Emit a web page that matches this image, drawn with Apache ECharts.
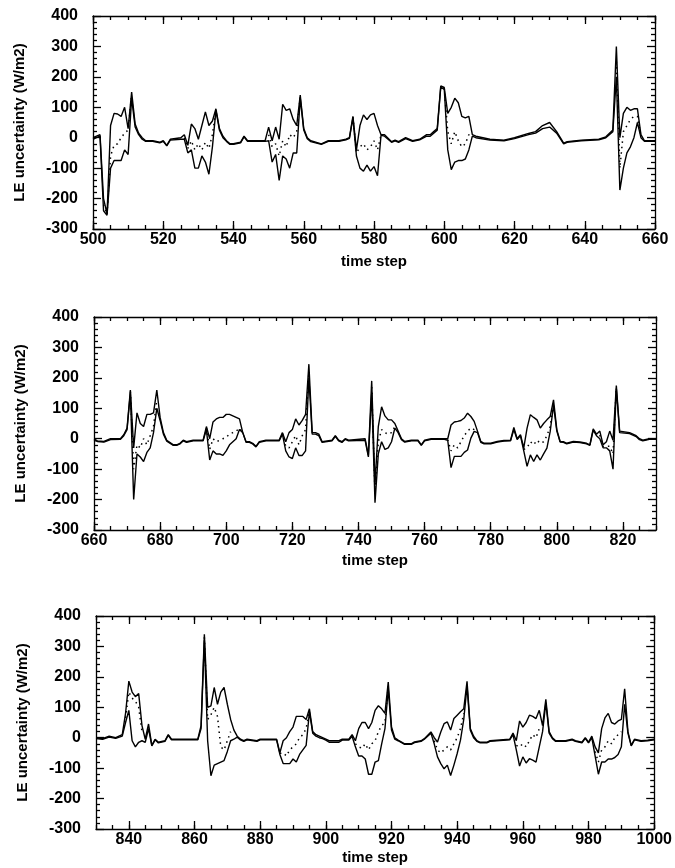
<!DOCTYPE html>
<html>
<head>
<meta charset="utf-8">
<script src="https://cdn.jsdelivr.net/npm/echarts@6.0.0/dist/echarts.min.js"></script>
<style>
html, body { margin: 0; background: #fff; }
#chart { width: 675px; height: 868px; }
</style>
</head>
<body>
<div id="chart"></div>
<script>
// panel A: time steps 500-660
var stepsA = [500,501,502,503,504,505,506,507,508,509,510,511,512,513,514,515,517,519,520,521,522,525,526,527,528,529,530,531,532,533,534,535,536,537,538,539,540,542,543,544,549,550,551,552,553,554,555,556,557,558,559,560,561,562,565,567,570,572,573,574,575,576,577,578,579,580,581,582,583,585,586,587,589,591,593,595,596,597,598,599,600,601,602,603,604,605,606,607,608,609,613,617,620,624,626,628,630,632,634,635,639,644,646,648,649,650,651,652,653,654,655,656,657,658,660];
var upperA = [0,5,10,-200,-250,40,80,78,70,100,30,150,45,15,0,-10,-10,-15,-10,-25,-5,0,10,-25,45,30,-5,40,85,40,55,95,30,5,-10,-20,-20,-15,5,-10,-10,35,-10,35,-5,110,90,95,60,40,140,30,0,-10,-20,-10,-10,-5,0,70,-40,40,75,60,75,80,40,10,10,-13,-8,-13,0,-10,-5,10,10,20,30,170,165,80,100,130,115,70,65,70,10,5,-5,-8,0,14,20,40,50,20,-18,-13,-8,-5,3,25,300,0,80,100,90,95,95,10,-10,-10,-10];
var lowerA = [-5,0,5,-240,-255,-100,-75,-75,-75,-40,-55,130,35,10,-5,-12,-12,-17,-12,-27,-8,-5,-5,-50,-40,-100,-100,-60,-80,-120,-30,90,25,0,-12,-22,-22,-17,3,-12,-12,-10,-80,-55,-140,-60,-70,-100,-50,-50,130,25,-3,-13,-22,-12,-12,-7,-2,65,-60,-100,-110,-90,-110,-95,-125,8,5,-15,-10,-15,-3,-12,-7,5,5,15,25,165,160,-40,-105,-80,-75,-75,-70,-40,5,0,-8,-10,-3,10,15,30,35,15,-20,-15,-10,-7,0,20,200,-172,-100,-50,-30,0,50,0,-12,-12,-12];
var midA = [null,null,null,-220,-252,-60,-25,-20,0,15,25,140,null,null,null,null,null,null,null,null,null,null,0,-35,-10,-40,-20,-40,-15,-35,10,92,null,null,null,null,null,null,null,null,null,10,-30,-20,-60,-10,-30,10,0,20,135,null,null,null,null,null,null,null,null,68,-50,-30,-20,-40,-30,-10,-40,9,null,null,null,null,null,null,null,null,null,null,null,null,162,20,-20,20,-10,-30,-20,10,7,null,null,null,null,null,null,null,null,null,null,null,null,null,null,null,250,-100,20,40,60,70,70,5,null,null,null];

// panel B: time steps 660-830
var stepsB = [660,661,663,665,668,669,670,671,672,673,674,675,676,677,678,679,680,681,682,684,685,686,687,688,690,693,694,695,696,697,698,699,700,701,702,703,704,705,706,707,708,709,710,712,716,717,718,719,720,721,722,723,724,725,726,727,728,729,732,733,734,735,736,737,742,743,744,745,746,747,748,749,750,751,752,753,754,756,758,759,760,762,766,767,768,769,770,771,772,773,774,775,776,777,778,780,782,784,786,787,788,789,790,791,792,793,794,795,796,797,798,799,800,801,802,803,805,807,809,810,811,812,813,814,815,816,817,818,819,822,823,824,825,826,828,830];
var upperB = [0,-7,-9,0,0,13,35,160,-30,85,50,40,80,80,85,160,70,20,-5,-20,-20,-15,-5,-10,-5,-5,40,0,55,65,70,70,80,80,75,70,65,20,-10,-10,-15,-25,-10,-5,-5,20,-10,20,30,65,45,60,80,245,20,20,15,-10,-5,10,-5,-10,0,-5,0,-55,190,-150,40,105,75,62,62,50,25,0,-9,-5,-5,-20,-5,0,0,0,45,55,57,60,68,84,73,57,25,-9,-15,-15,-9,-6,-5,37,0,13,-30,35,79,70,62,35,50,62,73,128,30,-9,-10,-15,-9,-11,-15,-20,32,15,25,-20,-10,25,-5,175,25,20,15,10,0,-5,0,0];
var lowerB = [-5,-9,-11,-3,-2,10,30,150,-200,-50,-60,-75,-45,-30,20,100,60,15,-8,-22,-22,-17,-7,-12,-7,-7,30,-70,-40,-50,-50,-55,-40,-20,-10,0,30,20,-12,-12,-17,-27,-12,-7,-7,15,-40,-60,-65,-30,-55,-55,-40,200,15,15,10,-12,-7,8,-7,-12,-2,-7,-5,-60,150,-210,-50,-10,-35,-30,-10,35,20,-3,-11,-7,-7,-22,-7,-2,-2,-5,-95,-58,-58,-58,-45,-37,2,24,20,-12,-17,-17,-11,-8,-7,30,-3,10,-40,-91,-53,-75,-53,-70,-50,-31,24,110,25,-11,-12,-17,-11,-13,-17,-22,28,10,0,-30,-30,-40,-100,165,20,17,12,7,-3,-7,-2,-2];
var midB = [null,null,null,null,null,null,null,155,-100,-20,-30,0,-20,10,40,130,null,null,null,null,null,null,null,null,null,null,35,-35,0,-10,-5,0,5,15,20,25,35,20,null,null,null,null,null,null,null,17,-25,-30,-10,10,-20,10,30,220,null,null,null,null,null,null,null,null,null,null,null,null,170,-180,-10,30,20,15,20,40,null,null,null,null,null,null,null,null,null,-3,-40,-20,-30,-10,10,25,35,30,22,null,null,null,null,null,null,null,null,null,-35,-30,-10,-20,-5,-15,-10,10,40,120,null,null,null,null,null,null,null,null,null,null,12,-25,-25,-25,-50,170,null,null,null,null,null,null,null,null];

// panel C: time steps 830-1000
var stepsC = [830,832,834,836,838,839,840,841,842,843,844,845,846,847,848,849,851,852,853,861,862,863,864,865,866,867,868,869,870,871,872,873,874,875,876,879,880,885,886,887,888,889,890,891,892,893,894,895,896,897,898,899,900,901,904,905,907,908,909,910,911,912,913,914,915,916,917,918,919,920,921,922,924,926,927,929,930,932,933,934,935,936,937,938,939,940,941,942,943,944,945,946,947,949,950,956,957,958,959,960,961,962,963,964,965,966,967,968,969,970,973,975,976,978,979,980,981,982,983,984,985,986,987,988,989,990,991,992,993,994,996,998,1000];
var upperC = [0,-3,5,0,10,80,186,150,135,145,40,-5,45,-25,-5,-15,-10,10,-5,-5,40,340,100,105,165,110,150,165,110,60,25,5,-5,-10,-5,-10,-5,-5,-50,-10,0,20,35,70,70,70,60,95,20,10,5,0,-5,-10,-10,-5,-5,10,-10,30,50,50,30,50,90,105,95,80,183,35,0,-8,-20,-20,-14,-10,-3,19,0,-14,19,46,52,25,63,74,85,95,185,30,5,-10,-15,-15,-10,-5,15,-10,55,35,50,74,70,63,90,40,126,20,0,-10,-10,-5,-10,-15,0,-15,5,-30,-50,30,65,80,50,45,55,60,161,20,-25,-5,-10,-8,-5];
var lowerC = [-3,-5,2,-2,5,50,90,-10,-30,-15,-10,-15,30,-27,-7,-17,-12,8,-7,-7,30,320,-10,-125,-90,-85,-80,-75,-45,-10,-5,2,-7,-12,-7,-12,-7,-7,-55,-85,-85,-85,-70,-80,-55,-40,-25,85,15,5,0,-3,-8,-15,-15,-8,-8,5,-30,-60,-60,-70,-120,-120,-80,-75,-20,30,160,25,-5,-10,-22,-22,-16,-12,-5,15,-20,-63,-85,-102,-90,-124,-90,-52,-8,60,170,25,0,-12,-17,-17,-12,-7,10,-40,-93,-63,-83,-69,-74,-80,-30,20,115,15,-3,-12,-12,-7,-12,-17,-2,-17,0,-60,-120,-80,-80,-70,-70,-65,-55,-30,110,15,-27,-7,-12,-10,-7];
var midC = [null,null,null,null,null,65,150,130,120,100,20,null,null,null,null,null,null,null,null,null,null,330,60,75,100,70,-30,-40,-10,20,null,null,null,null,null,null,null,null,-52,-50,-60,-40,-30,-20,0,10,30,90,null,null,null,null,null,null,null,null,null,null,-20,-30,-35,-20,-40,-20,-10,20,40,50,170,null,null,null,null,null,null,null,null,null,-10,-40,-50,-40,-30,-40,-20,0,30,80,null,null,null,null,null,null,null,null,null,-25,-30,-20,-30,-10,10,0,30,30,null,null,null,null,null,null,null,null,null,null,null,-45,-80,-40,-30,-10,-20,0,10,20,null,null,null,null,null,null,null];

var ticksA = [500,520,540,560,580,600,620,640,660];
var ticksB = [660,680,700,720,740,760,780,800,820];
var ticksC = [840,860,880,900,920,940,960,980,1000];

var chart = echarts.init(document.getElementById('chart'));
var FONT = 'Liberation Sans';

var panels = [
    {steps: stepsA, up: upperA, lo: lowerA, mid: midA, min: 500, max: 660, ticks: ticksA,
     grid: {left: 93, top: 16, width: 562, height: 213}, nameGap: 25},
    {steps: stepsB, up: upperB, lo: lowerB, mid: midB, min: 660, max: 830, ticks: ticksB,
     grid: {left: 94, top: 317, width: 562, height: 213}, nameGap: 23},
    {steps: stepsC, up: upperC, lo: lowerC, mid: midC, min: 830, max: 1000, ticks: ticksC,
     grid: {left: 96, top: 616, width: 561, height: 213}, nameGap: 21}
];

function pairs(xs, ys) {
    return xs.map(function (x, i) { return [x, ys[i]]; });
}
function plain(v) { return String(v); }

var grids = [], xAxes = [], yAxes = [], series = [];
var black = {color: '#000', width: 1.3};
var labelStyle = {color: '#000', fontFamily: FONT, fontWeight: 'bold', fontSize: 16, formatter: plain};

panels.forEach(function (p, i) {
    grids.push(p.grid);
    ['bottom', 'top'].forEach(function (pos) {
        // major ticks (every 20)
        xAxes.push({
            gridIndex: i, type: 'value', min: p.min, max: p.max, position: pos,
            axisLine: {show: true, onZero: false, lineStyle: black},
            axisTick: {show: true, inside: true, length: 8, customValues: p.ticks, lineStyle: black},
            axisLabel: pos === 'bottom'
                ? Object.assign({customValues: p.ticks, margin: 3}, labelStyle)
                : {show: false},
            splitLine: {show: false},
            name: pos === 'bottom' ? 'time step' : '',
            nameLocation: 'middle', nameGap: p.nameGap,
            nameTextStyle: {color: '#000', fontFamily: FONT, fontWeight: 'bold', fontSize: 15}
        });
        // minor ticks (every 5)
        xAxes.push({
            gridIndex: i, type: 'value', min: p.min, max: p.max, interval: 5, position: pos,
            axisLine: {show: false, onZero: false},
            axisTick: {show: true, inside: true, length: 4, lineStyle: black},
            axisLabel: {show: false},
            splitLine: {show: false}
        });
    });
    ['left', 'right'].forEach(function (pos) {
        yAxes.push({
            gridIndex: i, type: 'value', min: -300, max: 400, interval: 100, position: pos,
            axisLine: {show: true, onZero: false, lineStyle: black},
            axisTick: {show: true, inside: true, length: 8, lineStyle: black},
            minorTick: {show: true, splitNumber: 5, length: 4, lineStyle: black},
            axisLabel: pos === 'left' ? Object.assign({margin: 15}, labelStyle) : {show: false},
            splitLine: {show: false},
            minorSplitLine: {show: false},
            name: pos === 'left' ? 'LE uncertainty (W/m2)' : '',
            nameLocation: 'middle', nameGap: 66, nameRotate: 90,
            nameTextStyle: {color: '#000', fontFamily: FONT, fontWeight: 'bold', fontSize: 15}
        });
    });
    var xi = i * 4, yi = i * 2;
    series.push({
        type: 'line', xAxisIndex: xi, yAxisIndex: yi, data: pairs(p.steps, p.up),
        showSymbol: false, lineStyle: {color: '#000', width: 1.4}, animation: false, z: 3
    });
    series.push({
        type: 'line', xAxisIndex: xi, yAxisIndex: yi, data: pairs(p.steps, p.lo),
        showSymbol: false, lineStyle: {color: '#000', width: 1.4}, animation: false, z: 3
    });
    series.push({
        type: 'line', xAxisIndex: xi, yAxisIndex: yi, data: pairs(p.steps, p.mid),
        showSymbol: false, connectNulls: false,
        lineStyle: {color: '#000', width: 1.5, type: [1.5, 4]}, animation: false, z: 2
    });
});

chart.setOption({
    backgroundColor: '#fff',
    animation: false,
    grid: grids,
    xAxis: xAxes,
    yAxis: yAxes,
    series: series
});
</script>
</body>
</html>
